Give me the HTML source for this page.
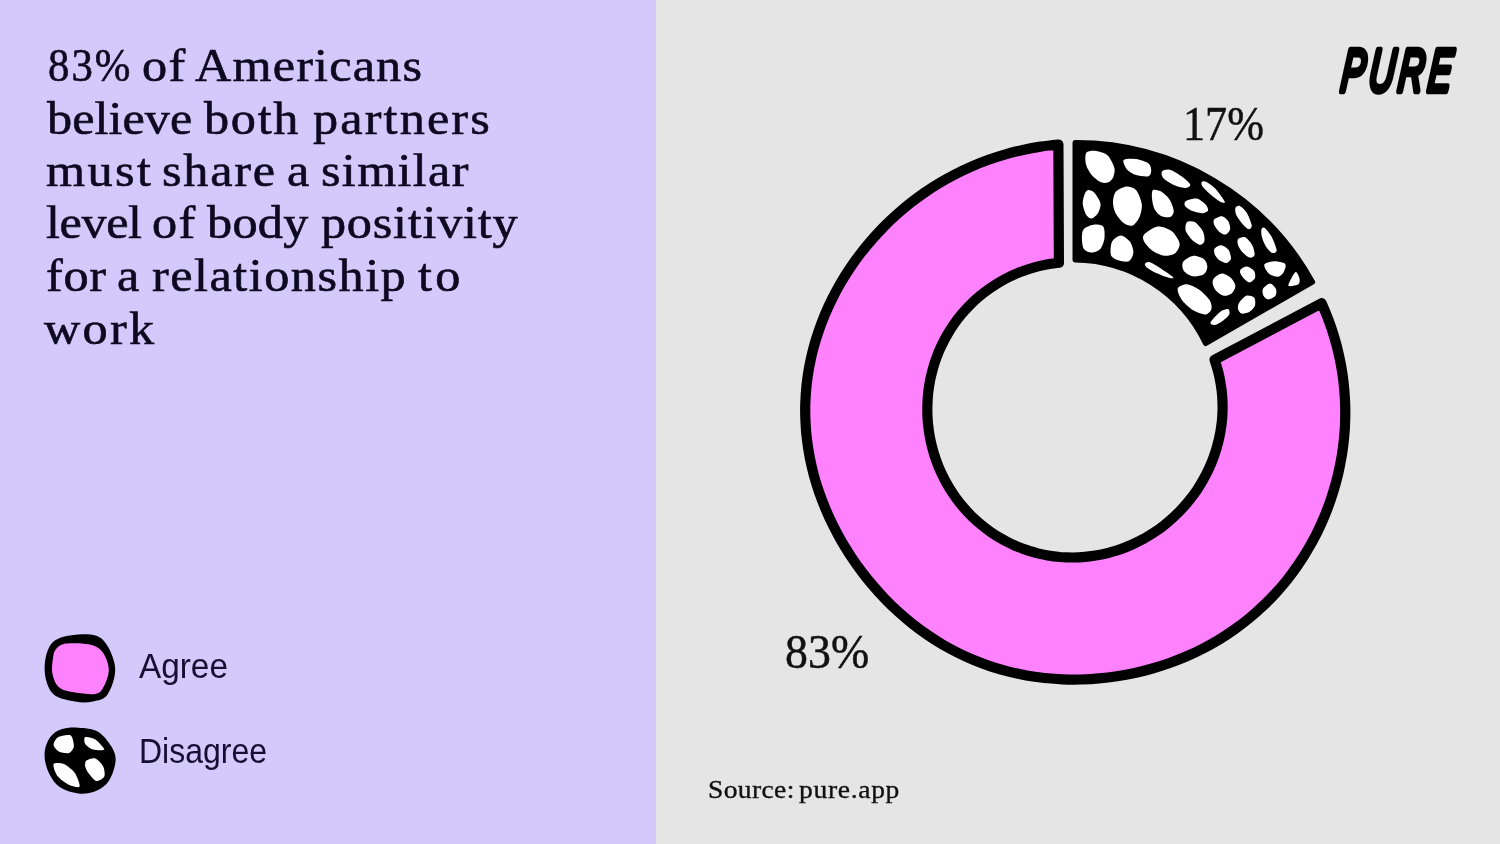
<!DOCTYPE html>
<html lang="en">
<head>
<meta charset="utf-8">
<title>83% of Americans believe both partners must share a similar level of body positivity</title>
<style>
html,body{margin:0;padding:0;}
body{width:1500px;height:844px;overflow:hidden;background:#e5e5e5;position:relative;font-family:"Liberation Serif",serif;color:#0c0920;}
.left{position:absolute;left:0;top:0;width:656px;height:844px;background:#d3c9fb;}
.right{position:absolute;left:656px;top:0;width:844px;height:844px;background:#e5e5e5;}
h1{position:absolute;left:0;top:0;margin:0;font-weight:normal;font-size:46.5px;line-height:46.5px;white-space:nowrap;-webkit-text-stroke:0.6px #0c0920;}
h1 .ln{position:absolute;left:0;height:46.5px;width:656px;display:block;}
h1 .w{position:absolute;top:0;transform:scaleX(1.08);transform-origin:0 0;}
.legend{position:absolute;left:0;top:0;font-family:"Liberation Sans",sans-serif;font-size:35px;line-height:35px;color:#140f33;}
.legend .lbl{position:absolute;left:138px;white-space:nowrap;transform-origin:0 0;}
.pct{position:absolute;font-size:49.5px;line-height:1;white-space:nowrap;color:#111;transform-origin:0 0;transform:scaleX(0.91);-webkit-text-stroke:0.5px #111;}
.src{position:absolute;left:0;top:777px;font-size:25.5px;line-height:25.5px;height:25.5px;white-space:nowrap;color:#111;-webkit-text-stroke:0.35px #111;}
.src span{position:absolute;top:0;transform:scaleX(1.08);transform-origin:0 0;}
svg{position:absolute;left:0;top:0;}
</style>
</head>
<body>
<div class="left"></div>
<div class="right"></div>
<h1>
<span class="ln" style="top:43.1px"><span class="w" style="left:48.1px;letter-spacing:2.17px;transform:scaleX(0.92);">83%</span> <span class="w" style="left:142.0px;letter-spacing:1.30px;">of</span> <span class="w" style="left:194.8px;letter-spacing:1.09px;">Americans</span></span>
<span class="ln" style="top:95.5px"><span class="w" style="left:46.7px;letter-spacing:0.03px;">believe</span> <span class="w" style="left:204.2px;letter-spacing:1.60px;">both</span> <span class="w" style="left:312.5px;letter-spacing:1.98px;">partners</span></span>
<span class="ln" style="top:147.6px"><span class="w" style="left:45.7px;letter-spacing:2.28px;">must</span> <span class="w" style="left:162.2px;letter-spacing:1.62px;">share</span> <span class="w" style="left:287.3px;">a</span> <span class="w" style="left:320.5px;letter-spacing:1.23px;">similar</span></span>
<span class="ln" style="top:200.1px"><span class="w" style="left:45.7px;letter-spacing:-0.37px;">level</span> <span class="w" style="left:152.2px;letter-spacing:1.30px;">of</span> <span class="w" style="left:206.7px;letter-spacing:0.25px;">body</span> <span class="w" style="left:320.8px;letter-spacing:0.70px;">positivity</span></span>
<span class="ln" style="top:253.1px"><span class="w" style="left:45.7px;letter-spacing:0.65px;">for</span> <span class="w" style="left:117.3px;">a</span> <span class="w" style="left:152.3px;letter-spacing:1.40px;">relationship</span> <span class="w" style="left:417.5px;letter-spacing:2.96px;">to</span></span>
<span class="ln" style="top:305.5px"><span class="w" style="left:44.2px;letter-spacing:2.16px;">work</span></span>
</h1>
<div class="legend">
  <div class="lbl" style="top:648.4px;left:139.2px;transform:scaleX(0.952)" id="agree">Agree</div>
  <div class="lbl" style="top:733.2px;left:139.4px;transform:scaleX(0.914)" id="disagree">Disagree</div>
</div>
<div class="pct" id="p17" style="left:1183.3px;top:99px;transform:scaleX(0.892);">17%</div>
<div class="pct" id="p83" style="left:785.2px;top:627.2px;transform:scaleX(0.927);">83%</div>
<div class="src" id="src"><span style="left:707.8px;letter-spacing:0.34px">Source:</span> <span style="left:799.1px;letter-spacing:0.63px">pure.app</span></div>
<svg id="art" width="1500" height="844" viewBox="0 0 1500 844">
<g id="donut">
<path d="M1321.6 303.2C1322.8 306.0 1326.4 314.3 1328.5 320.0C1330.7 325.7 1332.6 331.5 1334.3 337.3C1336.1 343.1 1337.6 349.0 1338.9 354.9C1340.2 360.8 1341.4 366.8 1342.3 372.8C1343.2 378.8 1343.9 384.9 1344.4 391.0C1344.9 397.0 1345.2 403.1 1345.3 409.2C1345.3 415.3 1345.2 421.4 1344.9 427.5C1344.5 433.6 1344.0 439.6 1343.2 445.7C1342.5 451.7 1341.5 457.8 1340.3 463.8C1339.2 469.7 1337.8 475.7 1336.2 481.6C1334.6 487.5 1332.9 493.3 1330.9 499.1C1329.0 504.9 1326.8 510.6 1324.5 516.2C1322.1 521.9 1319.6 527.4 1316.9 532.9C1314.1 538.4 1311.2 543.8 1308.1 549.0C1305.1 554.3 1301.8 559.5 1298.3 564.5C1294.9 569.5 1291.3 574.5 1287.5 579.3C1283.7 584.1 1279.7 588.7 1275.6 593.2C1271.5 597.7 1267.2 602.1 1262.7 606.3C1258.3 610.5 1253.7 614.6 1249.0 618.4C1244.3 622.3 1239.4 626.0 1234.4 629.5C1229.5 633.0 1224.3 636.4 1219.1 639.6C1213.9 642.7 1208.6 645.7 1203.2 648.5C1197.8 651.3 1192.3 653.9 1186.7 656.3C1181.1 658.7 1175.5 660.9 1169.7 663.0C1164.0 665.0 1158.2 666.9 1152.4 668.5C1146.6 670.2 1140.7 671.7 1134.8 673.0C1128.9 674.2 1122.9 675.3 1116.9 676.3C1110.9 677.2 1104.9 677.9 1098.9 678.4C1092.9 679.0 1086.8 679.3 1080.8 679.5C1074.7 679.6 1068.7 679.6 1062.6 679.3C1056.6 679.1 1050.5 678.6 1044.5 678.0C1038.5 677.3 1032.5 676.5 1026.5 675.4C1020.6 674.4 1014.6 673.1 1008.8 671.6C1002.9 670.1 997.1 668.5 991.3 666.6C985.6 664.7 979.9 662.6 974.3 660.3C968.7 657.9 963.2 655.4 957.8 652.7C952.3 650.0 947.0 647.1 941.8 644.1C936.6 641.0 931.5 637.7 926.6 634.3C921.6 630.9 916.8 627.3 912.0 623.5C907.3 619.8 902.7 615.8 898.3 611.8C893.8 607.8 889.5 603.6 885.3 599.2C881.1 594.9 877.1 590.5 873.2 585.9C869.3 581.4 865.5 576.7 861.9 571.9C858.3 567.1 854.8 562.2 851.5 557.2C848.1 552.2 845.0 547.1 841.9 541.9C838.9 536.7 836.1 531.4 833.4 526.0C830.7 520.7 828.1 515.2 825.8 509.6C823.5 504.1 821.3 498.5 819.3 492.8C817.3 487.1 815.5 481.3 813.9 475.5C812.4 469.6 811.0 463.7 809.8 457.8C808.7 451.9 807.7 445.9 807.0 439.9C806.2 433.9 805.7 427.8 805.5 421.8C805.2 415.7 805.1 409.7 805.3 403.6C805.5 397.6 805.9 391.5 806.5 385.5C807.2 379.5 808.0 373.5 809.1 367.5C810.2 361.6 811.5 355.6 813.0 349.8C814.5 344.0 816.2 338.2 818.2 332.5C820.1 326.7 822.2 321.1 824.5 315.5C826.8 310.0 829.3 304.5 832.0 299.1C834.7 293.7 837.5 288.5 840.5 283.3C843.5 278.1 846.7 273.0 850.0 268.1C853.4 263.1 856.9 258.2 860.5 253.5C864.2 248.8 867.9 244.1 871.9 239.7C875.8 235.2 879.9 230.8 884.0 226.6C888.2 222.3 892.6 218.2 897.0 214.3C901.5 210.3 906.0 206.5 910.7 202.8C915.4 199.2 920.2 195.7 925.1 192.3C930.0 188.9 935.0 185.7 940.1 182.7C945.2 179.6 950.5 176.7 955.8 174.0C961.0 171.3 966.4 168.8 971.9 166.4C977.4 164.0 982.9 161.8 988.5 159.8C994.1 157.8 999.8 155.9 1005.5 154.3C1011.3 152.6 1017.1 151.2 1022.9 149.9C1028.7 148.6 1034.6 147.5 1040.6 146.6C1046.5 145.7 1055.4 144.8 1058.4 144.5L1058.9 262.7C1056.8 263.0 1050.6 263.7 1046.6 264.5C1042.5 265.3 1038.4 266.2 1034.4 267.3C1030.4 268.4 1026.4 269.7 1022.5 271.2C1018.6 272.6 1014.8 274.3 1011.0 276.0C1007.3 277.8 1003.6 279.7 1000.0 281.8C996.4 283.9 992.9 286.2 989.5 288.6C986.1 290.9 982.8 293.5 979.6 296.2C976.4 298.8 973.3 301.7 970.4 304.6C967.4 307.5 964.6 310.6 961.9 313.8C959.3 316.9 956.7 320.2 954.3 323.6C951.9 327.0 949.7 330.5 947.6 334.1C945.5 337.7 943.5 341.3 941.8 345.1C940.0 348.8 938.3 352.6 936.9 356.5C935.4 360.4 934.1 364.3 933.0 368.3C931.9 372.2 930.9 376.3 930.1 380.3C929.3 384.4 928.7 388.5 928.2 392.6C927.8 396.6 927.5 400.8 927.4 404.9C927.3 409.0 927.3 413.1 927.5 417.2C927.7 421.4 928.1 425.5 928.7 429.5C929.2 433.6 929.9 437.7 930.8 441.7C931.7 445.7 932.7 449.7 933.9 453.6C935.1 457.6 936.5 461.5 938.0 465.3C939.5 469.1 941.2 472.9 943.1 476.6C944.9 480.3 946.9 483.9 949.0 487.4C951.1 490.9 953.4 494.4 955.8 497.7C958.2 501.0 960.8 504.3 963.5 507.4C966.2 510.5 969.0 513.6 971.9 516.5C974.9 519.3 978.0 522.1 981.1 524.7C984.3 527.4 987.6 529.9 991.0 532.2C994.4 534.6 997.9 536.8 1001.5 538.8C1005.1 540.9 1008.8 542.7 1012.5 544.5C1016.3 546.2 1020.1 547.8 1024.0 549.1C1027.9 550.5 1031.8 551.8 1035.8 552.8C1039.8 553.9 1043.9 554.7 1047.9 555.4C1052.0 556.1 1056.1 556.6 1060.2 557.0C1064.3 557.3 1068.4 557.5 1072.5 557.5C1076.6 557.5 1080.8 557.3 1084.9 556.9C1088.9 556.5 1093.0 556.0 1097.1 555.3C1101.1 554.6 1105.1 553.7 1109.1 552.7C1113.0 551.6 1117.0 550.4 1120.8 549.1C1124.7 547.7 1128.5 546.2 1132.2 544.5C1135.9 542.9 1139.6 541.0 1143.2 539.1C1146.7 537.1 1150.2 535.0 1153.6 532.8C1157.0 530.5 1160.4 528.2 1163.6 525.7C1166.8 523.2 1169.9 520.5 1172.9 517.8C1175.9 515.0 1178.9 512.2 1181.6 509.2C1184.4 506.2 1187.1 503.1 1189.6 499.9C1192.2 496.7 1194.6 493.4 1196.9 490.1C1199.2 486.7 1201.3 483.2 1203.3 479.6C1205.3 476.1 1207.2 472.4 1208.9 468.7C1210.6 465.0 1212.2 461.2 1213.6 457.3C1215.0 453.4 1216.3 449.5 1217.3 445.5C1218.4 441.6 1219.4 437.5 1220.1 433.5C1220.9 429.4 1221.4 425.3 1221.9 421.2C1222.3 417.1 1222.5 413.0 1222.6 408.8C1222.6 404.7 1222.5 400.5 1222.2 396.4C1221.9 392.2 1221.4 388.1 1220.7 384.0C1220.1 379.9 1219.2 375.8 1218.2 371.8C1217.2 367.7 1215.2 361.8 1214.6 359.8Z" fill="#fe81fd" stroke="#000" stroke-width="10.2" stroke-linejoin="round"/>
<path d="M1075.0 142.6 A270 268.5 0 0 1 1312.6 282.0 L1205.6 343.6 A146.5 146.5 0 0 0 1075.0 259.9 Z" fill="#000" stroke="#000" stroke-width="5" stroke-linejoin="round"/>
<g fill="#fff">
<path d="M1086.3 152.8C1087.8 150.9 1093.1 150.6 1096.1 151.0C1099.1 151.4 1105.1 153.0 1107.7 155.4C1110.2 157.8 1113.6 164.7 1114.4 167.9C1115.2 171.0 1113.9 175.6 1113.0 177.7C1112.0 179.7 1109.4 182.0 1107.7 182.6C1105.9 183.3 1102.8 183.2 1100.5 182.1C1098.3 181.0 1093.7 177.5 1091.7 175.0C1089.6 172.5 1086.7 167.5 1086.0 164.3C1085.2 161.2 1084.9 154.7 1086.3 152.8Z"/>
<path d="M1123.6 159.9C1124.9 158.4 1132.6 158.5 1136.1 159.0C1139.6 159.5 1146.4 161.8 1148.5 163.4C1150.7 165.1 1151.2 168.7 1151.2 170.5C1151.2 172.4 1150.7 175.6 1148.5 176.2C1146.4 176.9 1139.1 175.9 1136.1 175.0C1133.1 174.1 1129.0 171.8 1127.2 169.7C1125.4 167.5 1122.4 161.4 1123.6 159.9Z"/>
<path d="M1161.9 171.4C1162.7 170.2 1167.0 168.9 1169.9 169.7C1172.7 170.4 1179.4 174.6 1182.3 176.8C1185.2 178.9 1189.8 183.2 1190.3 184.8C1190.8 186.3 1188.0 187.8 1185.8 188.0C1183.7 188.1 1178.3 187.0 1175.2 185.6C1172.0 184.3 1165.5 180.6 1163.6 178.5C1161.7 176.5 1161.0 172.7 1161.9 171.4Z"/>
<path d="M1088.1 190.1C1089.5 189.8 1092.6 190.9 1094.3 192.8C1096.1 194.6 1100.0 200.5 1100.5 203.4C1101.0 206.3 1099.1 211.1 1097.9 213.2C1096.6 215.3 1093.3 218.3 1091.7 218.5C1090.0 218.8 1087.6 217.0 1086.3 215.0C1085.1 213.0 1083.0 207.2 1082.8 204.3C1082.5 201.4 1083.8 196.5 1084.5 194.5C1085.3 192.5 1086.7 190.3 1088.1 190.1Z"/>
<path d="M1115.6 191.9C1117.5 189.6 1123.4 186.8 1126.3 186.5C1129.2 186.3 1133.9 187.6 1136.1 190.1C1138.3 192.6 1141.3 200.5 1141.8 204.3C1142.3 208.1 1140.9 213.7 1139.6 216.7C1138.3 219.8 1134.8 224.8 1132.5 225.6C1130.3 226.5 1126.0 224.7 1123.6 223.0C1121.3 221.2 1117.2 216.1 1115.6 213.2C1114.1 210.3 1113.0 205.6 1113.0 202.5C1113.0 199.5 1113.8 194.1 1115.6 191.9Z"/>
<path d="M1153.0 190.1C1154.4 189.1 1159.5 190.5 1161.9 191.9C1164.2 193.3 1168.2 197.1 1169.9 199.9C1171.5 202.6 1173.8 209.0 1173.8 211.4C1173.8 213.9 1171.7 216.5 1169.9 217.1C1168.0 217.7 1163.1 216.9 1161.0 215.9C1158.8 214.8 1156.0 212.0 1154.7 209.6C1153.5 207.2 1152.3 201.7 1152.1 199.0C1151.8 196.2 1151.6 191.1 1153.0 190.1Z"/>
<path d="M1185.8 201.1C1187.5 200.1 1193.7 198.2 1196.5 198.6C1199.3 199.1 1203.8 202.6 1205.4 204.3C1207.0 206.0 1208.6 209.3 1208.1 210.5C1207.6 211.8 1204.2 213.2 1201.8 213.2C1199.4 213.2 1193.6 211.5 1191.2 210.5C1188.8 209.5 1185.7 207.4 1185.0 206.1C1184.2 204.8 1184.2 202.2 1185.8 201.1Z"/>
<path d="M1083.7 229.2C1085.3 227.3 1090.7 225.1 1093.4 224.7C1096.2 224.4 1101.6 224.6 1103.2 226.5C1104.8 228.4 1104.8 234.9 1104.5 238.1C1104.1 241.2 1102.4 246.7 1100.5 248.7C1098.7 250.8 1094.0 252.6 1091.7 252.6C1089.3 252.6 1085.0 250.8 1083.7 248.7C1082.3 246.7 1081.9 240.8 1081.9 238.1C1081.9 235.3 1082.0 231.1 1083.7 229.2Z"/>
<path d="M1112.1 241.6C1113.5 238.9 1118.5 235.4 1121.0 235.4C1123.5 235.4 1128.1 239.2 1129.9 241.6C1131.6 244.0 1133.5 249.5 1133.4 252.3C1133.3 255.1 1131.1 260.0 1129.0 261.2C1126.8 262.3 1120.9 261.2 1118.3 260.3C1115.7 259.4 1111.7 257.6 1110.9 255.0C1110.0 252.3 1110.7 244.4 1112.1 241.6Z"/>
<path d="M1144.1 234.5C1146.0 232.4 1153.5 227.0 1157.4 226.5C1161.3 226.0 1168.5 228.6 1171.6 231.0C1174.8 233.4 1179.1 240.3 1179.6 243.4C1180.1 246.6 1177.3 251.4 1175.2 253.2C1173.0 254.9 1167.8 256.2 1164.5 255.8C1161.2 255.5 1155.0 252.5 1152.1 250.5C1149.2 248.5 1145.2 243.9 1144.1 241.6C1143.0 239.4 1142.2 236.7 1144.1 234.5Z"/>
<path d="M1186.7 222.4C1188.0 221.2 1192.5 220.9 1194.7 222.1C1197.0 223.3 1201.3 228.3 1202.7 231.0C1204.1 233.6 1204.9 238.8 1204.5 240.7C1204.1 242.7 1201.8 245.0 1200.1 244.8C1198.3 244.7 1194.1 241.8 1192.1 239.9C1190.1 237.9 1186.6 233.4 1185.8 231.0C1185.1 228.5 1185.5 223.7 1186.7 222.4Z"/>
<path d="M1145.0 263.8C1145.3 263.1 1147.0 261.3 1149.4 262.1C1151.8 262.8 1158.5 267.0 1161.9 269.2C1165.2 271.3 1171.9 275.9 1173.1 277.2C1174.2 278.4 1172.1 278.6 1169.9 278.1C1167.6 277.6 1160.7 275.1 1157.4 273.6C1154.1 272.1 1148.5 268.8 1146.7 267.4C1145.0 266.0 1144.6 264.6 1145.0 263.8Z"/>
<path d="M1201.7 182.1C1202.2 181.4 1204.1 180.7 1206.1 181.8C1208.1 182.8 1213.2 186.4 1215.9 189.2C1218.5 192.0 1224.1 199.9 1224.8 201.7C1225.4 203.4 1222.3 202.7 1220.3 201.7C1218.3 200.7 1213.1 196.7 1210.5 194.5C1208.0 192.4 1203.8 188.3 1202.5 186.6C1201.3 184.8 1201.2 182.8 1201.7 182.1Z"/>
<path d="M1235.4 207.9C1235.9 206.6 1238.2 205.3 1239.9 206.1C1241.5 206.9 1245.3 210.4 1247.0 213.2C1248.7 216.0 1251.5 223.4 1251.8 225.6C1252.0 227.9 1250.1 229.5 1248.8 229.2C1247.4 229.0 1244.3 225.9 1242.5 223.9C1240.8 221.9 1237.3 217.3 1236.3 215.0C1235.3 212.7 1234.9 209.1 1235.4 207.9Z"/>
<path d="M1214.1 219.4C1215.2 218.1 1220.1 216.0 1222.1 216.2C1224.1 216.5 1227.2 219.4 1228.3 221.2C1229.4 223.0 1230.5 227.3 1230.1 229.2C1229.7 231.1 1227.2 234.2 1225.6 234.5C1224.1 234.9 1221.0 233.1 1219.4 231.9C1217.8 230.6 1215.2 227.4 1214.5 225.6C1213.7 223.9 1213.0 220.8 1214.1 219.4Z"/>
<path d="M1261.5 229.2C1262.0 228.0 1263.3 226.8 1264.7 228.0C1266.2 229.1 1270.2 234.0 1271.9 237.2C1273.5 240.4 1276.7 248.3 1276.7 250.5C1276.7 252.7 1273.4 253.5 1271.9 252.8C1270.3 252.2 1267.1 248.4 1265.6 246.1C1264.2 243.7 1262.3 238.7 1261.7 236.3C1261.1 233.9 1261.1 230.4 1261.5 229.2Z"/>
<path d="M1238.1 239.0C1239.1 237.8 1243.2 236.3 1245.2 237.2C1247.2 238.1 1251.0 242.7 1252.3 245.2C1253.6 247.7 1255.0 253.2 1254.6 255.0C1254.2 256.7 1251.4 258.0 1249.6 257.6C1247.9 257.3 1244.2 254.1 1242.5 252.3C1240.9 250.5 1238.7 247.1 1238.1 245.2C1237.5 243.3 1237.1 240.1 1238.1 239.0Z"/>
<path d="M1214.5 248.8C1215.3 247.4 1219.2 245.1 1221.2 245.2C1223.2 245.3 1226.9 247.8 1228.3 249.6C1229.7 251.5 1231.2 256.6 1231.0 258.5C1230.7 260.4 1228.2 262.7 1226.5 263.0C1224.9 263.2 1221.1 261.4 1219.4 260.3C1217.8 259.2 1215.7 256.6 1215.0 255.0C1214.3 253.3 1213.6 250.1 1214.5 248.8Z"/>
<path d="M1183.0 262.1C1184.3 259.9 1189.8 256.2 1192.8 255.9C1195.8 255.5 1202.3 257.8 1204.3 259.4C1206.4 261.1 1207.5 265.3 1207.3 267.4C1207.2 269.6 1205.5 273.3 1203.4 274.5C1201.4 275.8 1195.5 276.8 1192.8 276.3C1190.0 275.8 1185.3 273.0 1183.9 271.0C1182.5 269.0 1181.7 264.2 1183.0 262.1Z"/>
<path d="M1264.7 263.9C1266.0 262.7 1271.6 261.2 1274.5 261.2C1277.4 261.2 1283.9 262.3 1285.2 263.9C1286.5 265.4 1284.8 270.0 1283.8 271.9C1282.8 273.7 1280.0 276.3 1278.1 276.7C1276.1 277.0 1271.8 275.6 1270.1 274.5C1268.3 273.5 1266.4 270.7 1265.6 269.2C1264.9 267.7 1263.5 265.0 1264.7 263.9Z"/>
<path d="M1240.8 269.2C1241.7 268.2 1245.1 266.3 1247.0 266.5C1248.9 266.8 1253.0 269.3 1254.1 271.0C1255.2 272.6 1255.6 276.4 1255.0 278.1C1254.3 279.7 1251.2 282.4 1249.6 282.5C1248.1 282.6 1245.6 280.2 1244.3 279.0C1243.0 277.7 1240.9 275.0 1240.4 273.6C1239.9 272.2 1239.8 270.2 1240.8 269.2Z"/>
<path d="M1295.8 271.9C1297.1 271.6 1299.0 276.3 1299.4 278.1C1299.8 279.8 1300.0 283.2 1298.5 284.3C1297.0 285.4 1289.9 286.7 1288.7 286.1C1287.6 285.4 1289.5 281.9 1290.5 279.9C1291.5 277.8 1294.6 272.1 1295.8 271.9Z"/>
<path d="M1214.1 278.1C1215.4 276.7 1219.7 273.6 1222.1 273.6C1224.5 273.6 1229.1 276.3 1231.0 278.1C1232.9 279.8 1235.3 283.9 1235.4 286.1C1235.5 288.2 1233.5 291.8 1231.9 293.2C1230.2 294.6 1226.1 296.2 1223.9 295.8C1221.6 295.5 1217.5 292.3 1215.9 290.5C1214.3 288.8 1212.9 285.2 1212.7 283.4C1212.4 281.6 1212.8 279.5 1214.1 278.1Z"/>
<path d="M1263.0 288.7C1263.9 287.0 1268.2 283.4 1270.1 283.4C1271.9 283.4 1275.2 287.0 1275.9 288.7C1276.7 290.5 1276.5 294.3 1275.4 295.8C1274.3 297.4 1270.0 299.4 1268.3 299.4C1266.6 299.4 1264.3 297.4 1263.5 295.8C1262.7 294.3 1262.0 290.5 1263.0 288.7Z"/>
<path d="M1177.7 288.7C1178.3 286.5 1183.5 284.2 1186.6 284.3C1189.6 284.4 1195.7 287.4 1199.0 289.6C1202.3 291.9 1207.9 297.5 1209.7 300.3C1211.4 303.1 1212.1 307.2 1211.4 309.2C1210.8 311.2 1207.9 314.4 1205.2 314.5C1202.6 314.6 1196.0 312.1 1192.8 310.1C1189.5 308.0 1184.2 303.3 1182.1 300.3C1180.0 297.3 1177.0 291.0 1177.7 288.7Z"/>
<path d="M1239.0 303.0C1240.1 301.1 1243.9 296.6 1246.1 295.8C1248.2 295.1 1252.8 296.2 1254.1 297.6C1255.3 299.0 1255.6 303.6 1255.0 305.6C1254.3 307.6 1251.5 310.7 1249.6 311.8C1247.8 313.0 1243.3 314.0 1241.6 313.6C1240.0 313.2 1238.5 310.7 1238.1 309.2C1237.7 307.7 1237.8 304.8 1239.0 303.0Z"/>
<path d="M1210.5 322.5C1211.3 320.6 1217.8 313.7 1220.3 311.8C1222.8 310.0 1227.1 308.8 1228.3 309.2C1229.6 309.6 1230.0 312.9 1229.2 314.5C1228.4 316.1 1225.0 319.2 1223.0 320.7C1221.0 322.2 1216.7 324.7 1215.0 325.0C1213.2 325.2 1209.8 324.4 1210.5 322.5Z"/>
</g>
</g>
<g id="legend-icons">
<path d="M78.4 634.6C86.7 634.0 96.0 633.7 102.1 639.1C108.2 644.5 114.2 658.1 115.1 667.3C116.0 676.5 111.4 688.6 107.7 694.3C104.0 700.0 98.5 700.3 93.1 701.5C87.6 702.7 81.8 702.9 75.0 701.5C68.2 700.1 57.6 698.7 52.5 693.2C47.4 687.7 44.6 676.9 44.6 668.4C44.6 659.9 46.9 648.1 52.5 642.5C58.1 636.9 70.1 635.2 78.4 634.6Z" fill="#000"/>
<path d="M55.9 649.3C58.1 646.8 60.5 644.4 66.0 643.6C71.5 642.8 82.6 643.0 88.6 644.3C94.6 645.6 98.7 647.3 102.1 651.5C105.5 655.7 108.6 663.5 108.8 669.5C109.0 675.5 105.5 683.5 103.2 687.6C101.0 691.7 100.0 693.1 95.3 693.9C90.6 694.7 81.0 693.5 75.0 692.5C69.0 691.5 63.0 690.7 59.3 687.6C55.5 684.5 53.5 679.0 52.5 674.1C51.5 669.2 52.4 662.4 53.0 658.3C53.6 654.2 53.7 651.8 55.9 649.3Z" fill="#fe81fd"/>
<path d="M78.4 727.7C84.4 728.1 92.1 728.4 97.6 731.5C103.0 734.6 108.1 741.2 111.1 746.1C114.1 751.0 116.0 755.0 115.6 760.8C115.2 766.6 112.2 775.9 108.8 781.0C105.4 786.1 100.4 789.1 95.3 791.2C90.2 793.3 84.4 794.1 78.4 793.4C72.4 792.6 64.4 790.5 59.3 786.7C54.2 783.0 50.5 776.5 48.0 770.9C45.5 765.3 44.2 758.5 44.6 752.9C45.0 747.3 47.5 741.0 50.3 737.1C53.1 733.2 56.8 730.8 61.5 729.2C66.2 727.6 72.4 727.3 78.4 727.7Z" fill="#000"/>
<g fill="#fff">
<path d="M58.2 737.1C60.5 735.8 68.4 734.1 70.5 735.3C72.6 736.5 74.0 743.8 73.9 746.1C73.8 748.4 71.3 752.1 69.4 752.9C67.5 753.7 61.4 752.9 59.3 751.8C57.2 750.7 53.7 747.0 53.6 745.0C53.5 743.0 55.9 738.4 58.2 737.1Z"/>
<path d="M85.2 737.1C86.5 736.5 92.8 737.7 95.3 739.4C97.8 741.1 104.6 748.2 104.3 749.5C104.0 750.8 95.6 750.2 93.1 749.5C90.6 748.8 86.3 745.6 85.2 743.9C84.1 742.2 83.9 737.7 85.2 737.1Z"/>
<path d="M53.6 764.1C54.5 762.6 60.9 762.9 63.8 764.1C66.7 765.3 72.9 770.2 75.0 773.2C77.1 776.2 80.4 785.2 79.5 786.7C78.6 788.2 71.3 785.9 68.3 784.4C65.3 782.9 59.0 778.1 57.0 775.4C55.0 772.7 52.7 765.6 53.6 764.1Z"/>
<path d="M86.3 760.8C87.6 759.7 93.0 757.8 95.3 758.5C97.6 759.2 102.0 764.0 103.2 766.4C104.4 768.8 105.2 774.6 104.3 776.5C103.4 778.4 98.5 781.4 96.4 781.0C94.3 780.6 90.1 775.1 88.6 773.2C87.1 771.3 85.5 768.1 85.2 766.4C84.9 764.7 85.0 761.9 86.3 760.8Z"/>
</g>
</g>
<g transform="translate(1339.8,91.3) scale(0.592,1) skewX(-10)"><text id="logo" x="0" y="0" font-family="'Liberation Sans',sans-serif" font-style="italic" font-size="59.6" fill="#000" stroke="#000" stroke-width="5.2" stroke-linejoin="round" letter-spacing="7" vector-effect="non-scaling-stroke">PURE</text></g>
</svg>
</body>
</html>
